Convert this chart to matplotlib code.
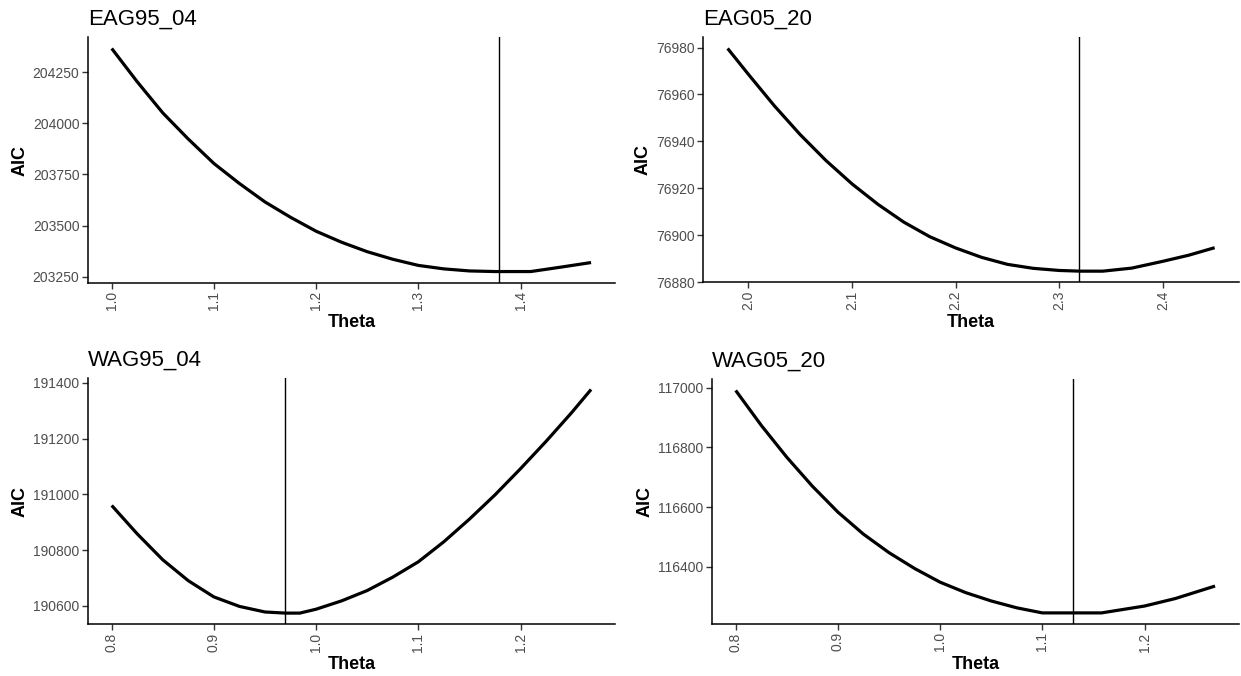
import matplotlib
matplotlib.use("Agg")
import matplotlib.pyplot as plt
from matplotlib.ticker import MultipleLocator, FormatStrFormatter

plt.rcParams['font.family'] = ['Liberation Sans', 'DejaVu Sans']

# EAG95_04
theta_eag95 = [1.000, 1.025, 1.050, 1.075, 1.100, 1.125, 1.150, 1.175, 1.200, 1.225,
               1.250, 1.275, 1.300, 1.325, 1.350, 1.375, 1.410, 1.440, 1.469]
aic_eag95 = [204365, 204202, 204050, 203922, 203803, 203705, 203615, 203540, 203472, 203418,
             203372, 203335, 203305, 203288, 203278, 203275, 203275, 203297, 203319]
best_eag95 = 1.379

# EAG05_20
theta_eag05 = [1.980, 2.000, 2.025, 2.050, 2.075, 2.100, 2.125, 2.150, 2.175, 2.200,
               2.225, 2.250, 2.275, 2.300, 2.320, 2.342, 2.370, 2.400, 2.425, 2.450]
aic_eag05 = [76979.6, 76968.6, 76955.2, 76942.9, 76931.8, 76921.9, 76913.2, 76905.6, 76899.4, 76894.6,
             76890.6, 76887.6, 76885.9, 76885.0, 76884.7, 76884.7, 76886.0, 76888.9, 76891.5, 76894.7]
best_eag05 = 2.319

# WAG95_04
theta_wag95 = [0.800, 0.825, 0.850, 0.875, 0.900, 0.925, 0.950, 0.970, 0.984, 1.000,
               1.025, 1.050, 1.075, 1.100, 1.125, 1.150, 1.175, 1.200, 1.225, 1.250, 1.269]
aic_wag95 = [190960, 190858, 190765, 190690, 190632, 190598, 190578, 190574, 190574, 190588,
             190618, 190655, 190703, 190758, 190830, 190911, 190998, 191092, 191190, 191293, 191376]
best_wag95 = 0.9696

# WAG05_20
theta_wag05 = [0.800, 0.825, 0.850, 0.875, 0.900, 0.925, 0.950, 0.975, 1.000, 1.025,
               1.050, 1.075, 1.100, 1.158, 1.200, 1.230, 1.269]
aic_wag05 = [116991, 116874, 116767, 116670, 116583, 116509, 116447, 116394, 116348, 116313,
             116285, 116262, 116245, 116245, 116268, 116293, 116335]
best_wag05 = 1.1304

panels = [
    ("EAG95_04", theta_eag95, aic_eag95, best_eag95, 250, [0.0707, 0.5818, 0.4249, 0.3630]),
    ("EAG05_20", theta_eag05, aic_eag05, best_eag05, 20, [0.5667, 0.5824, 0.4317, 0.3624]),
    ("WAG95_04", theta_wag95, aic_wag95, best_wag95, 200, [0.0707, 0.0765, 0.4249, 0.3639]),
    ("WAG05_20", theta_wag05, aic_wag05, best_wag05, 200, [0.5735, 0.0769, 0.4249, 0.3620]),
]

fig = plt.figure(figsize=(12.41, 6.76), dpi=100)

for name, theta, aic, best, ystep, rect in panels:
    ax = fig.add_axes(rect)
    ax.plot(theta, aic, color='black', linewidth=2.3, solid_capstyle='butt')
    ax.axvline(best, color='black', linewidth=1.0)
    ax.margins(x=0.05, y=0.05)

    ax.xaxis.set_major_locator(MultipleLocator(0.1))
    ax.xaxis.set_major_formatter(FormatStrFormatter('%.1f'))
    ax.yaxis.set_major_locator(MultipleLocator(ystep))
    ax.yaxis.set_major_formatter(FormatStrFormatter('%d'))

    for side in ['top', 'right']:
        ax.spines[side].set_visible(False)
    for side in ['left', 'bottom']:
        ax.spines[side].set_linewidth(1.1)
        ax.spines[side].set_color('black')

    ax.tick_params(axis='both', length=4, width=1.0, color='#333333',
                   labelcolor='#4D4D4D', labelsize=10, pad=2)
    ax.tick_params(axis='x', labelrotation=90)

    ax.set_xlabel("Theta", fontsize=13, fontweight='bold', labelpad=3)
    ax.set_ylabel("AIC", fontsize=13, fontweight='bold', labelpad=3)
    ax.set_title(name, loc='left', fontsize=16, pad=9)

fig.savefig("out.png", dpi=100)
